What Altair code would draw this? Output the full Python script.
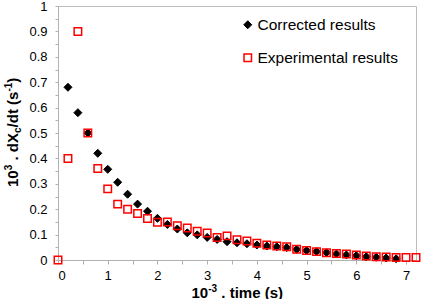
import altair as alt
import pandas as pd

# Measured reaction rate, 10^3 . dXc/dt (s^-1), against 10^-3 . time (s)
time_exp = [0.0, 0.2, 0.4, 0.6, 0.8, 1.0, 1.2, 1.4, 1.6, 1.8, 2.0, 2.2, 2.4,
            2.6, 2.8, 3.0, 3.2, 3.4, 3.6, 3.8, 4.0, 4.2, 4.4, 4.6, 4.8, 5.0,
            5.2, 5.4, 5.6, 5.8, 6.0, 6.2, 6.4, 6.6, 6.8, 7.0, 7.2]
rate_exp = [0.0, 0.40, 0.90, 0.50, 0.36, 0.28, 0.22, 0.20, 0.183, 0.163,
            0.149, 0.150, 0.135, 0.126, 0.113, 0.106, 0.089, 0.095, 0.080,
            0.075, 0.066, 0.059, 0.055, 0.052, 0.042, 0.037, 0.033, 0.029,
            0.026, 0.024, 0.020, 0.016, 0.013, 0.012, 0.010, 0.010, 0.010]

time_cor = [0.2, 0.4, 0.6, 0.8, 1.0, 1.2, 1.4, 1.6, 1.8, 2.0, 2.2, 2.4, 2.6,
            2.8, 3.0, 3.2, 3.4, 3.6, 3.8, 4.0, 4.2, 4.4, 4.6, 4.8, 5.0, 5.2,
            5.4, 5.6, 5.8, 6.0, 6.2, 6.4, 6.6, 6.8]
rate_cor = [0.68, 0.58, 0.50, 0.42, 0.357, 0.306, 0.259, 0.220, 0.192,
            0.164, 0.140, 0.122, 0.107, 0.099, 0.089, 0.081, 0.072, 0.068,
            0.064, 0.059, 0.055, 0.052, 0.049, 0.042, 0.037, 0.033, 0.029,
            0.024, 0.020, 0.017, 0.013, 0.011, 0.008, 0.005]

series_names = ["Corrected results", "Experimental results"]

x_ticks = [0, 0.5, 1, 1.5, 2, 2.5, 3, 3.5, 4, 4.5, 5, 5.5, 6, 6.5, 7]
y_ticks = [0, 0.05, 0.1, 0.15, 0.2, 0.25, 0.3, 0.35, 0.4, 0.45, 0.5, 0.55,
           0.6, 0.65, 0.7, 0.75, 0.8, 0.85, 0.9, 0.95, 1.0]

df = pd.concat([
    pd.DataFrame({"time": time_cor, "rate": rate_cor, "series": series_names[0]}),
    pd.DataFrame({"time": time_exp, "rate": rate_exp, "series": series_names[1]}),
], ignore_index=True)

W, H = 358, 254
FONT = "Liberation Sans"
AXIS_GREY = "#b0b0b0"

legend = alt.Legend(
    title=None, orient="none", legendX=182, legendY=11, direction="vertical",
    labelFont=FONT, labelFontSize=15.5, labelColor="#000000",
    rowPadding=16, labelOffset=2, padding=0,
)

points = alt.Chart(df).mark_point(opacity=1).encode(
    x=alt.X("time:Q",
            scale=alt.Scale(domain=[0, 7.2], nice=False, zero=False),
            axis=alt.Axis(values=x_ticks, title=None, grid=False,
                          tickSize=4, labelPadding=5,
                          labelExpr="round(datum.value*2) % 2 == 0 ? format(datum.value, '~g') : ''")),
    y=alt.Y("rate:Q",
            scale=alt.Scale(domain=[0, 1], nice=False),
            axis=alt.Axis(values=y_ticks, title=None, grid=False,
                          tickSize=3, labelPadding=8,
                          labelExpr="round(datum.value*20) % 2 == 0 ? format(datum.value, '~g') : ''")),
    shape=alt.Shape("series:N", scale=alt.Scale(domain=series_names, range=["diamond", "square"]), legend=legend),
    fill=alt.Fill("series:N", scale=alt.Scale(domain=series_names, range=["#000000", "transparent"]), legend=legend),
    stroke=alt.Stroke("series:N", scale=alt.Scale(domain=series_names, range=["#000000", "#ff0000"]), legend=legend),
    size=alt.Size("series:N", scale=alt.Scale(domain=series_names, range=[64, 56]), legend=legend),
    strokeWidth=alt.StrokeWidth("series:N", scale=alt.Scale(domain=series_names, range=[1, 1.5]), legend=legend),
)


def title_piece(text, x, y, size, dx=0.0, dy=0.0, angle=0):
    return alt.Chart(pd.DataFrame({"t": [text]})).mark_text(
        font=FONT, fontWeight="bold", fontSize=size, align="left",
        baseline="alphabetic", dx=dx, dy=dy, angle=angle, color="#000000",
    ).encode(text="t:N", x=alt.value(x), y=alt.value(y))


# x-axis title: 10^-3 . time (s)
xt_x, xt_y = 133.5, 291.5
x_title = [
    title_piece("10", xt_x, xt_y, 15),
    title_piece("-3", xt_x, xt_y, 10, dx=16.7, dy=-6),
    title_piece(". time (s)", xt_x, xt_y, 15, dx=16.7 + 8.9 + 4.2),
]

# y-axis title: 10^3 . dX_c/dt (s^-1), rotated to read upwards
yt_x, yt_y = -40, 181
y_title = [
    title_piece("10", yt_x, yt_y, 15, angle=270),
    title_piece("3", yt_x, yt_y, 10, dx=16.7, dy=-6, angle=270),
    title_piece(". dX", yt_x, yt_y, 15, dx=16.7 + 5.6 + 4.2, angle=270),
    title_piece("c", yt_x, yt_y, 10, dx=16.7 + 5.6 + 31.7, dy=3, angle=270),
    title_piece("/dt (s", yt_x, yt_y, 15, dx=16.7 + 5.6 + 31.7 + 5.6, angle=270),
    title_piece("-1", yt_x, yt_y, 10, dx=16.7 + 5.6 + 31.7 + 5.6 + 35.8, dy=-6, angle=270),
    title_piece(")", yt_x, yt_y, 15, dx=16.7 + 5.6 + 31.7 + 5.6 + 35.8 + 8.9, angle=270),
]

chart = alt.layer(points, *x_title, *y_title).properties(
    width=W, height=H,
    autosize=alt.AutoSizeParams(type="none"),
    padding={"left": 58, "top": 6, "right": 8, "bottom": 39},
).configure_view(
    stroke="#bdbdbd", strokeWidth=1,
).configure_axis(
    domainColor=AXIS_GREY, tickColor=AXIS_GREY,
    labelFont=FONT, labelFontSize=13, labelColor="#000000",
)

chart.save("out.html", embed_options={"renderer": "svg", "actions": False})
